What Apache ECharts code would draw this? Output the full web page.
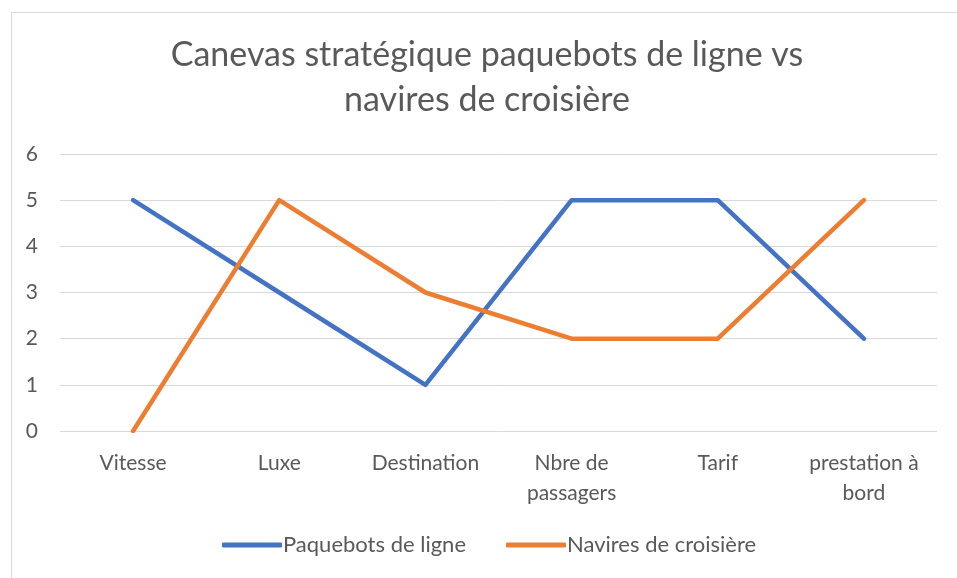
<!DOCTYPE html>
<html><head><meta charset="utf-8">
<script src="https://cdn.jsdelivr.net/npm/echarts@6/dist/echarts.min.js"></script>
<style>html,body{margin:0;padding:0;background:#fff}#c{width:957px;height:578px}</style>
</head><body><div id="c"></div>
<script>
const categories = ['Vitesse', 'Luxe', 'Destination', 'Nbre de\npassagers', 'Tarif', 'prestation à\nbord'];
const paquebots = [5, 3, 1, 5, 5, 2];
const navires = [0, 5, 3, 2, 2, 5];
const yTicks = [0, 1, 2, 3, 4, 5, 6];
const titleText = 'Canevas stratégique paquebots de ligne vs\nnavires de croisière';
const seriesNames = ['Paquebots de ligne', 'Navires de croisière'];

const FONT = 'Lato';
const chart = echarts.init(document.getElementById('c'));
chart.setOption({
  animation: false,
  color: ['#4472C4', '#ED7D31'],
  graphic: [{
    type: 'rect', left: 9, top: 10, shape: {width: 1000, height: 1000},
    style: {fill: 'none', stroke: '#d9d9d9', lineWidth: 1}, silent: true
  }],
  title: {
    text: titleText, left: 482, top: 28, textAlign: 'center',
    textStyle: {fontFamily: FONT, fontSize: 34, fontWeight: 'normal', color: '#595959', lineHeight: 45}
  },
  legend: {
    bottom: 17, left: 217, itemWidth: 60, itemHeight: 5, itemGap: 40,
    icon: 'roundRect',
    textStyle: {fontFamily: FONT, fontSize: 22, color: '#595959', padding: [0, 0, 0, -4]},
    data: seriesNames
  },
  grid: {left: 60, right: 20, top: 154, bottom: 147, containLabel: false},
  xAxis: {
    type: 'category', data: categories, boundaryGap: true,
    axisLine: {show: false}, axisTick: {show: false},
    axisLabel: {fontFamily: FONT, fontSize: 21, color: '#595959', margin: 17, lineHeight: 30, interval: 0}
  },
  yAxis: {
    type: 'value', min: yTicks[0], max: yTicks[yTicks.length - 1], interval: 1,
    axisLine: {show: false}, axisTick: {show: false},
    axisLabel: {fontFamily: FONT, fontSize: 21, color: '#595959', margin: 22},
    splitLine: {lineStyle: {color: '#d9d9d9', width: 1}}
  },
  series: [
    {name: seriesNames[0], type: 'line', data: paquebots, showSymbol: false, symbol: 'none',
     lineStyle: {width: 4.5, cap: 'round', join: 'round'}},
    {name: seriesNames[1], type: 'line', data: navires, showSymbol: false, symbol: 'none',
     lineStyle: {width: 4.5, cap: 'round', join: 'round'}}
  ]
});
</script></body></html>
